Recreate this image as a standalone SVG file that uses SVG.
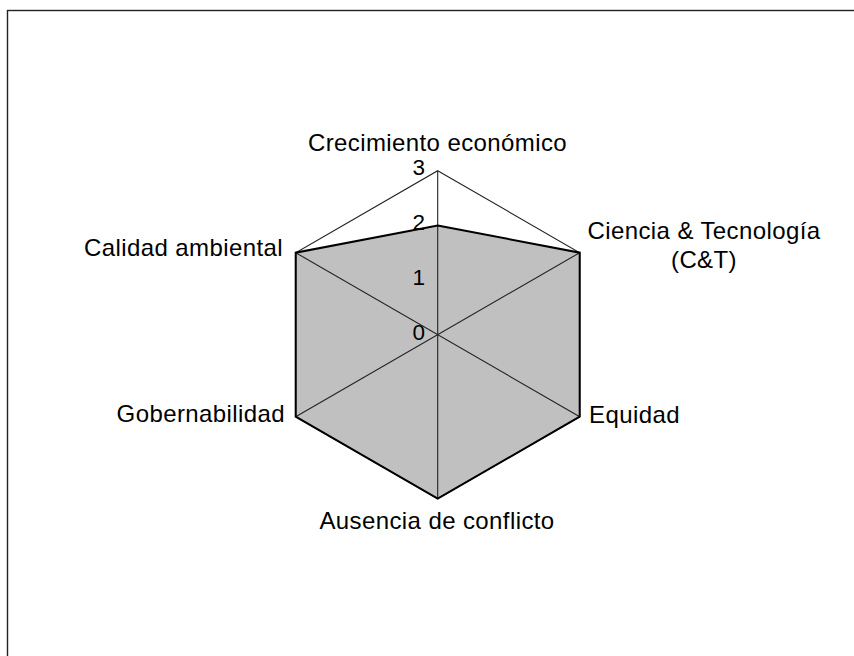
<svg xmlns="http://www.w3.org/2000/svg" width="854" height="656" viewBox="0 0 854 656">
<style>
.lbl{font-family:"Liberation Sans",Arial,sans-serif;font-size:24px;letter-spacing:0.4px;fill:#000}
.tick{font-family:"Liberation Sans",Arial,sans-serif;font-size:22.5px;fill:#000;text-anchor:end}
.spoke{stroke:#222;stroke-width:1.1;fill:none}
</style>
<rect x="0" y="0" width="854" height="656" fill="#fff"/>
<rect x="7.5" y="10.5" width="900" height="700" fill="none" stroke="#222" stroke-width="1.4"/>
<g id="data-fill">
<polygon points="437.7,225.4 579.7,252.7 579.7,416.7 437.7,498.7 295.7,416.7 295.7,252.7" fill="#C0C0C0"/>
</g>
<g id="axes">
<line class="spoke" x1="437.7" y1="170.7" x2="437.7" y2="498.7" stroke="#555"/>
<line class="spoke" x1="579.7" y1="252.7" x2="295.7" y2="416.7"/>
<line class="spoke" x1="579.7" y1="416.7" x2="295.7" y2="252.7"/>
<polygon class="spoke" stroke="#000" points="437.7,170.7 579.7,252.7 579.7,416.7 437.7,498.7 295.7,416.7 295.7,252.7"/>
</g>
<g id="data-outline">
<polygon points="437.7,225.4 579.7,252.7 579.7,416.7 437.7,498.7 295.7,416.7 295.7,252.7" fill="none" stroke="#000" stroke-width="2" stroke-linejoin="miter"/>
</g>
<g id="ticks">
<text class="tick" x="425" y="175">3</text>
<text class="tick" x="425" y="230">2</text>
<text class="tick" x="425" y="285">1</text>
<text class="tick" x="425" y="340">0</text>
</g>
<g id="labels">
<text class="lbl" x="437.5" y="151" text-anchor="middle">Crecimiento económico</text>
<text class="lbl" x="704" y="239" text-anchor="middle">Ciencia &amp; Tecnología</text>
<text class="lbl" x="704" y="268" text-anchor="middle">(C&amp;T)</text>
<text class="lbl" x="589" y="423">Equidad</text>
<text class="lbl" x="437" y="529" text-anchor="middle">Ausencia de conflicto</text>
<text class="lbl" x="285" y="422" text-anchor="end">Gobernabilidad</text>
<text class="lbl" x="283" y="256" text-anchor="end">Calidad ambiental</text>
</g>
</svg>
